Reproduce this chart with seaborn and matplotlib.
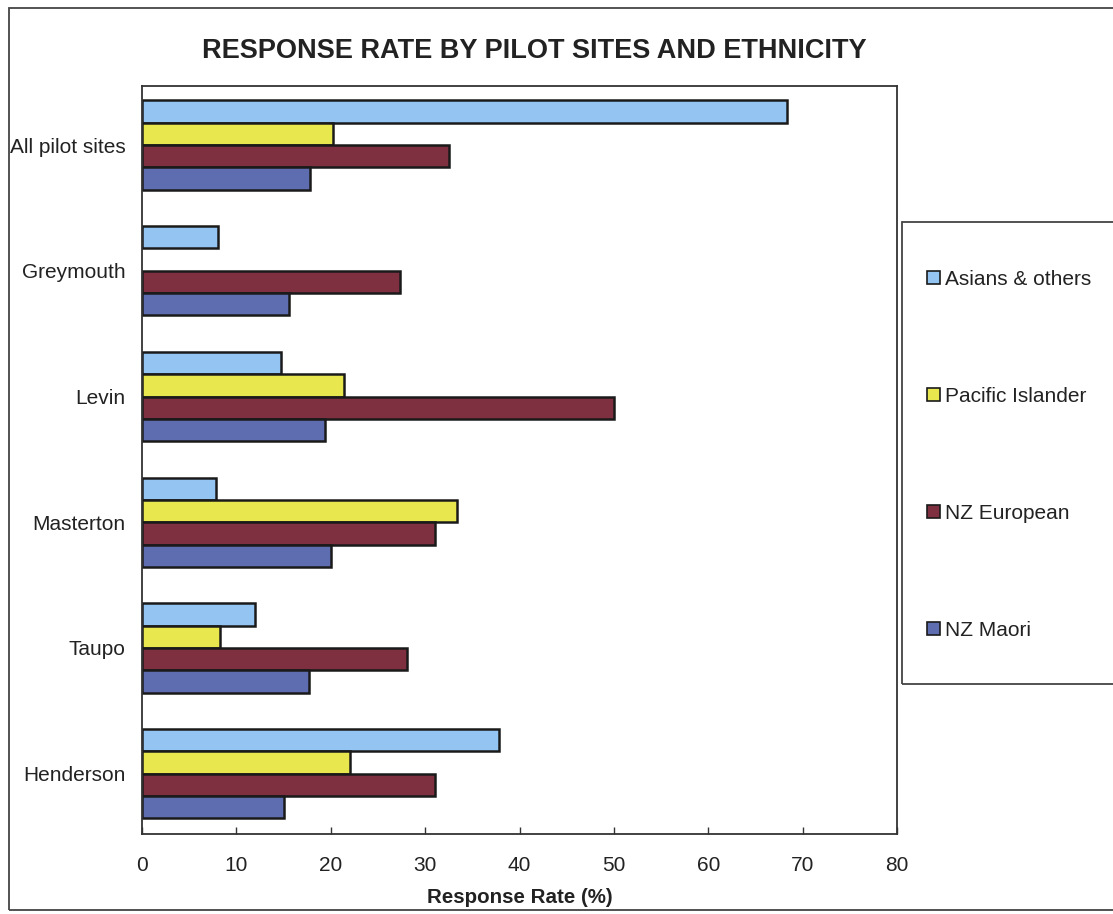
import numpy as np
import pandas as pd
import matplotlib
matplotlib.use("Agg")
import matplotlib.pyplot as plt
from matplotlib.patches import Rectangle, Patch
import seaborn as sns

# Response rates (%) by pilot site and ethnic group
sites = ["All pilot sites", "Greymouth", "Levin", "Masterton", "Taupo", "Henderson"]
groups = ["Asians & others", "Pacific Islander", "NZ European", "NZ Maori"]
asians_others = [68.3, 8.0, 14.7, 7.8, 12.0, 37.8]
pacific_islander = [20.2, np.nan, 21.4, 33.4, 8.3, 22.0]
nz_european = [32.5, 27.3, 50.0, 31.0, 28.1, 31.0]
nz_maori = [17.8, 15.6, 19.4, 20.0, 17.7, 15.0]
colors = ["#93C4F2", "#E8E84E", "#7E2F40", "#5E6CB0"]
x_ticks = [0, 10, 20, 30, 40, 50, 60, 70, 80]

df = pd.DataFrame({
    "site": np.repeat(sites, len(groups)),
    "group": groups * len(sites),
    "rate": np.column_stack([asians_others, pacific_islander,
                             nz_european, nz_maori]).ravel(),
})

sns.set_theme(style="white")
plt.rcParams["font.family"] = ["Liberation Sans", "DejaVu Sans"]

W, H = 1113, 914
fig = plt.figure(figsize=(W / 100, H / 100), dpi=100)
ax = fig.add_axes([142 / W, 1 - 834 / H, (897 - 142) / W, (834 - 86) / H])

sns.barplot(data=df, x="rate", y="site", hue="group", order=sites,
            hue_order=groups, palette=colors, orient="h", width=0.71,
            gap=0, edgecolor="#1a1a1a", linewidth=1.8, saturation=1,
            legend=False, ax=ax)

ax.set_xlim(0, 80)
ax.set_ylim(5.48, -0.47)
ax.set_xticks(x_ticks)
ax.set_xticklabels([str(t) for t in x_ticks], fontsize=15, color="#222222")
ax.tick_params(axis="x", direction="in", length=5, width=1, pad=16,
               bottom=True, color="#333333")
ax.tick_params(axis="y", length=0, pad=12, labelsize=15, labelcolor="#222222")
ax.set_ylabel("")
ax.set_xlabel("Response Rate (%)", fontsize=14.8, fontweight="bold",
              color="#222222", labelpad=9)
for s in ax.spines.values():
    s.set_visible(True)
    s.set_color("#333333")
    s.set_linewidth(1.3)

fig.text(534 / W, 1 - 51 / H, "RESPONSE RATE BY PILOT SITES AND ETHNICITY",
         ha="center", va="center", fontsize=19.5, fontweight="bold",
         color="#222222")

# Outer chart frame
fig.patches.append(Rectangle((9 / W, 1 - 910 / H), (W + 10 - 9) / W, (910 - 8) / H,
                             transform=fig.transFigure, fill=False,
                             edgecolor="#444444", linewidth=1.3))
# Legend box
fig.patches.append(Rectangle((902 / W, 1 - 684 / H), (W + 10 - 902) / W,
                             (684 - 222) / H, transform=fig.transFigure,
                             fill=False, edgecolor="#444444", linewidth=1.3))

handles = [Patch(facecolor=c, edgecolor="#1a1a1a", linewidth=1.2) for c in colors]
fig.legend(handles, groups, loc="upper left",
           bbox_to_anchor=(927 / W, 1 - 270 / H), frameon=False,
           fontsize=15, handlelength=0.6, handleheight=0.6,
           handletextpad=0.25, labelspacing=4.7, borderpad=0,
           borderaxespad=0, labelcolor="#222222")

fig.savefig("out.png", dpi=100)
